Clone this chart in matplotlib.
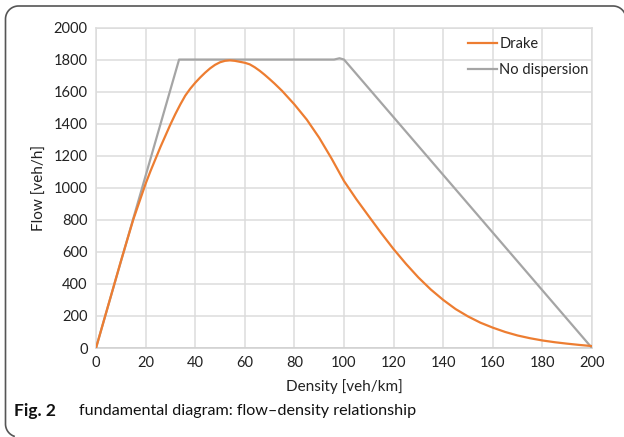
import matplotlib
matplotlib.use('Agg')
import matplotlib.pyplot as plt
import numpy as np

# Density [veh/km] and flow [veh/h]
drake_density = [0, 5, 10, 15, 20, 22, 24, 26, 28, 30, 32, 34, 36, 38, 40, 42, 44, 46, 48,
                 50, 52, 54, 56, 58, 60, 62, 64, 66, 68, 70, 72, 75, 80, 85, 90, 95,
                 100, 105, 110, 115, 120, 125, 130, 135, 140, 145, 150, 155, 160, 165,
                 170, 175, 180, 185, 190, 195, 200]
drake_flow = [0, 270, 540, 800, 1025, 1105, 1180, 1255, 1325, 1395, 1460, 1520, 1575, 1618, 1655,
              1688, 1718, 1745, 1767, 1783, 1792, 1795, 1792, 1786, 1780, 1770, 1752, 1730, 1705,
              1678, 1650, 1605, 1520, 1425, 1312, 1182, 1042, 928, 822, 717, 617, 525, 440, 365,
              300, 243, 197, 158, 127, 100, 78, 61, 47, 36, 27, 19, 12]

nodisp_density = [0, 33.5, 96, 98.2, 100, 200]
nodisp_flow = [0, 1800, 1800, 1808, 1800, 0]

x_ticks = [0, 20, 40, 60, 80, 100, 120, 140, 160, 180, 200]
y_ticks = [0, 200, 400, 600, 800, 1000, 1200, 1400, 1600, 1800, 2000]

plt.rcParams['font.family'] = ['Lato', 'DejaVu Sans']

W, H = 624, 437
fig = plt.figure(figsize=(W / 100, H / 100), dpi=100)
ax = fig.add_axes([96 / W, 1 - 348 / H, 496 / W, 320.5 / H])

ax.plot(nodisp_density, nodisp_flow, color='#a5a5a5', lw=1.6, label='No dispersion', zorder=3,
        solid_joinstyle='round')
ax.plot(drake_density, drake_flow, color='#ed7d31', lw=1.6, label='Drake', zorder=4,
        solid_joinstyle='round')

ax.set_xlim(0, 200)
ax.set_ylim(0, 2000)
ax.set_xticks(x_ticks)
ax.set_yticks(y_ticks)
ax.tick_params(length=0, labelsize=10.5, colors='#222222', pad=6)
ax.grid(True, color='#dcdcdc', lw=1.1)
ax.set_axisbelow(True)
for s in ax.spines.values():
    s.set_color('#dcdcdc')
    s.set_linewidth(1.1)
ax.spines['bottom'].set_color('#cfcfcf')

ax.set_xlabel('Density [veh/km]', fontsize=11, color='#222222', labelpad=6)
ax.set_ylabel('Flow [veh/h]', fontsize=11, color='#222222', labelpad=5)

# legend order: Drake first
h, l = ax.get_legend_handles_labels()
ax.legend(h[::-1], l[::-1], loc='upper right', bbox_to_anchor=(1.02, 1.01), frameon=False,
          fontsize=10.5, handlelength=2.0, handletextpad=0.15, labelspacing=0.8,
          labelcolor='#222222')

# caption
fig.text(14 / W, 1 - 411 / H, 'Fig. 2', fontsize=12.5, fontweight='bold', va='center', color='#111111')
fig.text(79 / W, 1 - 411 / H, 'fundamental diagram: flow\u2013density relationship', fontsize=11.6,
         va='center', color='#111111')

# frame: top edge and left edge with rounded corners (pixel coords, y down)
r = 13
def arc(cx, cy, a0, a1):
    t = np.radians(np.linspace(a0, a1, 20))
    return list(cx + r * np.cos(t)), list(cy - r * np.sin(t))

px, py = [], []
for seg in [arc(613, 6 + r, 25, 90), arc(5.5 + r, 6 + r, 90, 180), arc(5.5 + r, 424, 180, 250)]:
    px += seg[0]
    py += seg[1]
fig.add_artist(plt.Line2D(np.array(px) / W, 1 - np.array(py) / H, transform=fig.transFigure,
                          color='#555555', lw=1.2))

fig.savefig('out.png', dpi=100)
